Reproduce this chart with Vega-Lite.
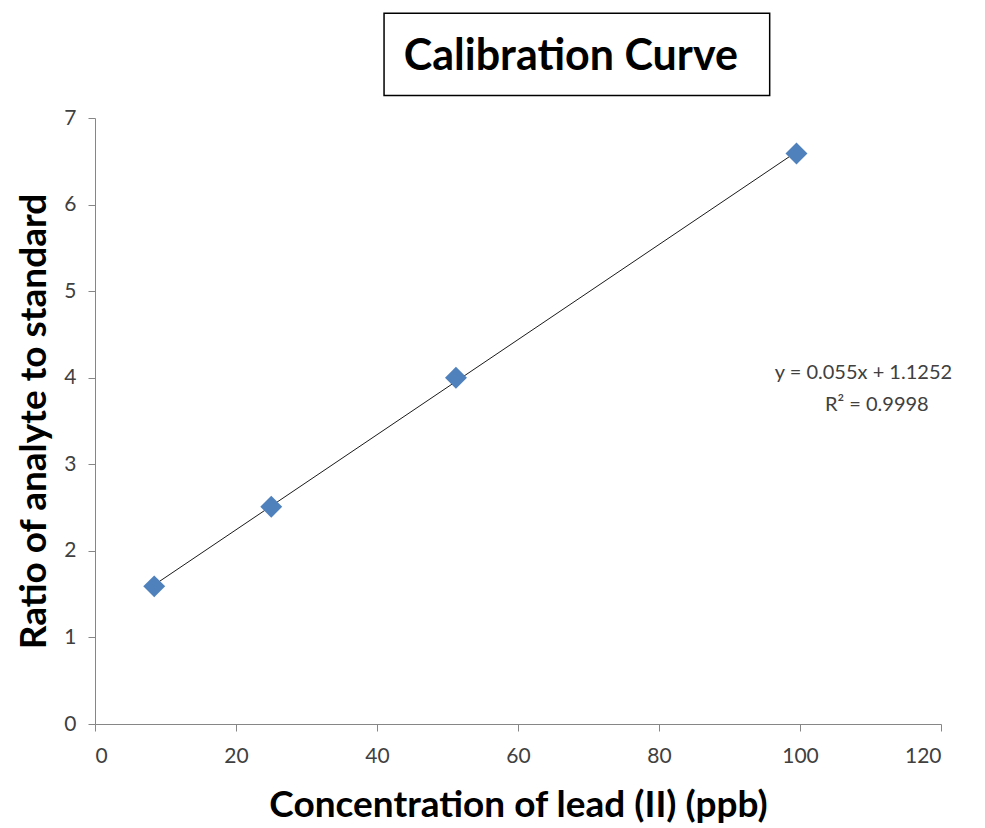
{
  "$schema": "https://vega.github.io/schema/vega-lite/v6.json",
  "width": 846,
  "height": 606,
  "autosize": {"type": "none"},
  "padding": {"left": 95, "top": 118, "right": 44, "bottom": 104},
  "background": "white",
  "config": {
    "view": {"stroke": null},
    "font": "Lato",
    "axis": {
      "grid": false,
      "domainColor": "#868686",
      "tickColor": "#868686",
      "labelColor": "#404040",
      "labelFontSize": 21,
      "labelFont": "Lato",
      "titleFont": "Lato",
      "titleFontSize": 37,
      "titleFontWeight": "bold",
      "titleColor": "black"
    }
  },
  "datasets": {
    "standards": [
      {"conc": 8.4, "ratio": 1.59},
      {"conc": 25.0, "ratio": 2.51},
      {"conc": 51.2, "ratio": 4.0},
      {"conc": 99.5, "ratio": 6.59}
    ],
    "titleBox": [
      {"x1": 41, "x2": 95.7, "y1": 7.26, "y2": 8.21, "cx": 67.5, "cy": 7.71, "label": "Calibration Curve"}
    ],
    "fit": [
      {"conc": 109.0, "ratio": 4.06, "label": "y = 0.055x + 1.1252"},
      {"conc": 110.9, "ratio": 3.69, "label": "R² = 0.9998"}
    ]
  },
  "layer": [
    {
      "data": {"name": "titleBox"},
      "mark": {"type": "rect", "fill": null, "stroke": "black", "strokeWidth": 1.5, "clip": false},
      "encoding": {
        "x": {"field": "x1", "type": "quantitative"},
        "x2": {"field": "x2"},
        "y": {"field": "y1", "type": "quantitative"},
        "y2": {"field": "y2"}
      }
    },
    {
      "data": {"name": "titleBox"},
      "mark": {"type": "text", "font": "Lato", "fontSize": 43, "fontWeight": "bold", "color": "black", "align": "center", "baseline": "middle", "clip": false},
      "encoding": {
        "x": {"field": "cx", "type": "quantitative"},
        "y": {"field": "cy", "type": "quantitative"},
        "text": {"field": "label"}
      }
    },
    {
      "data": {"name": "standards"},
      "transform": [{"regression": "ratio", "on": "conc"}],
      "mark": {"type": "line", "color": "#1a1a1a", "strokeWidth": 1},
      "encoding": {
        "x": {"field": "conc", "type": "quantitative"},
        "y": {"field": "ratio", "type": "quantitative"}
      }
    },
    {
      "data": {"name": "standards"},
      "mark": {"type": "point", "shape": "diamond", "filled": true, "color": "#4F81BD", "opacity": 1, "size": 480},
      "encoding": {
        "x": {
          "field": "conc",
          "type": "quantitative",
          "scale": {"domain": [0, 120], "nice": false},
          "axis": {
            "values": [0, 20, 40, 60, 80, 100, 120],
            "format": "d",
            "title": "Concentration of lead (II) (ppb)",
            "tickSize": 7,
            "labelPadding": 14,
            "titlePadding": 21
          }
        },
        "y": {
          "field": "ratio",
          "type": "quantitative",
          "scale": {"domain": [0, 7], "nice": false},
          "axis": {
            "values": [0, 1, 2, 3, 4, 5, 6, 7],
            "format": "d",
            "title": "Ratio of analyte to standard",
            "tickSize": 7,
            "labelPadding": 12,
            "titlePadding": 10
          }
        }
      }
    },
    {
      "data": {"name": "fit"},
      "mark": {"type": "text", "fontSize": 20, "color": "#404040", "align": "center", "baseline": "middle", "clip": false},
      "encoding": {
        "x": {"field": "conc", "type": "quantitative"},
        "y": {"field": "ratio", "type": "quantitative"},
        "text": {"field": "label"}
      }
    }
  ]
}
